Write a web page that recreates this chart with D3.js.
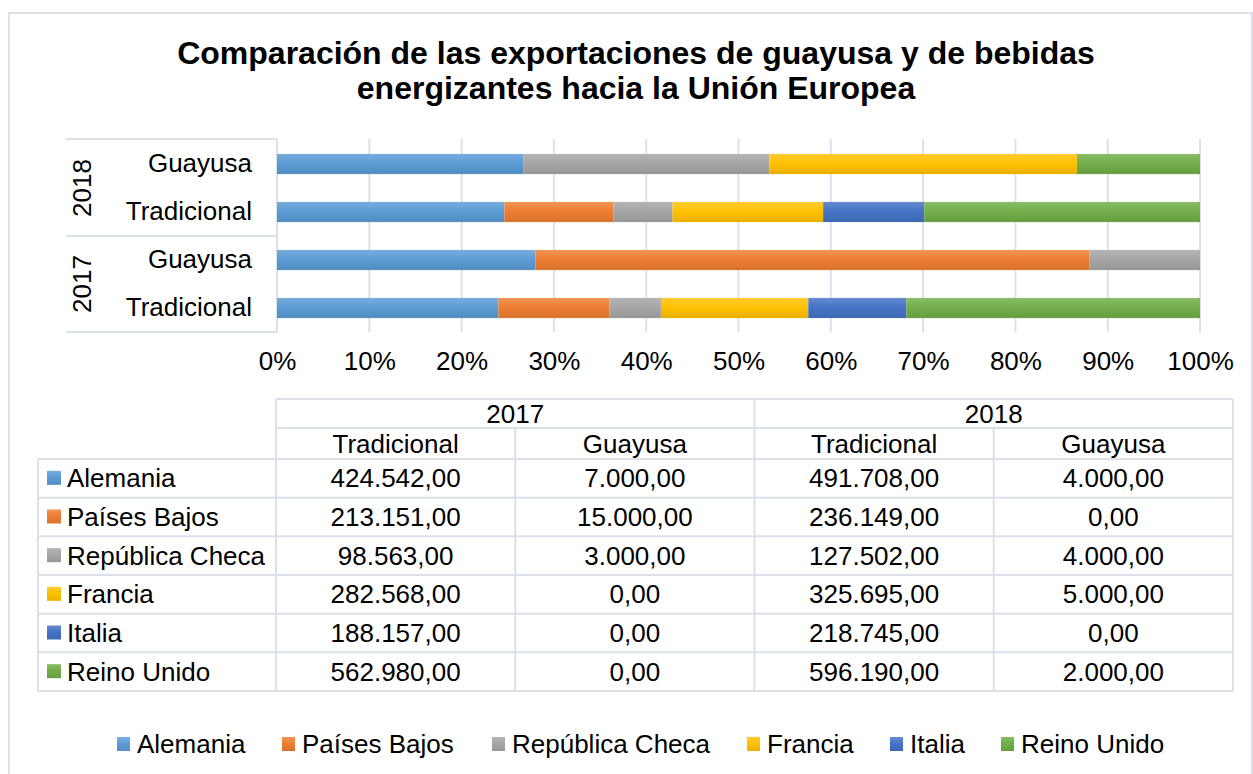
<!DOCTYPE html>
<meta charset="utf-8">
<head>
<script src="https://cdn.jsdelivr.net/npm/d3@7"></script>
<style>
body { margin: 0; background: #fff; }
text { font-family: "Liberation Sans", Arial, sans-serif; fill: #000; }
.title { font-size: 32px; font-weight: bold; }
.lbl { font-size: 26px; }
</style>
</head>
<body>
<script>

// datos
var countries = ["Alemania", "Países Bajos", "República Checa", "Francia", "Italia", "Reino Unido"];
var colors = ["#5b9bd5", "#ed7d31", "#a5a5a5", "#ffc000", "#4472c4", "#70ad47"];
var years = ["2017", "2018"];
var types = ["Tradicional", "Guayusa"];

var trad2017 = [424542, 213151, 98563, 282568, 188157, 562980];
var guay2017 = [7000, 15000, 3000, 0, 0, 0];
var trad2018 = [491708, 236149, 127502, 325695, 218745, 596190];
var guay2018 = [4000, 0, 4000, 5000, 0, 2000];

var xTicks = [0, 0.1, 0.2, 0.3, 0.4, 0.5, 0.6, 0.7, 0.8, 0.9, 1];

var width = 1253, height = 774;
var gridColor = "#dce0e8";

// filas del gráfico (de arriba hacia abajo)
var barRows = [
  {year: "2018", type: "Guayusa", vals: guay2018},
  {year: "2018", type: "Tradicional", vals: trad2018},
  {year: "2017", type: "Guayusa", vals: guay2017},
  {year: "2017", type: "Tradicional", vals: trad2017}
];
// columnas de la tabla
var tableCols = [
  {year: "2017", type: "Tradicional", vals: trad2017},
  {year: "2017", type: "Guayusa", vals: guay2017},
  {year: "2018", type: "Tradicional", vals: trad2018},
  {year: "2018", type: "Guayusa", vals: guay2018}
];

var es = d3.formatLocale({decimal: ",", thousands: ".", grouping: [3], currency: ["", "€"]});
var fmt = es.format(",.2f");

var svg = d3.select("body").append("svg")
    .attr("width", width)
    .attr("height", height);

// degradados tipo Excel
var defs = svg.append("defs");
colors.forEach(function(c, i) {
  var g = defs.append("linearGradient")
      .attr("id", "grad" + i)
      .attr("x1", 0).attr("y1", 0).attr("x2", 0).attr("y2", 1);
  g.append("stop").attr("offset", "0%").attr("stop-color", d3.interpolateRgb(c, "#fff")(0.18));
  g.append("stop").attr("offset", "50%").attr("stop-color", c);
  g.append("stop").attr("offset", "100%").attr("stop-color", d3.color(c).darker(0.25));
});

// borde del área del gráfico
svg.append("rect")
    .attr("x", 9).attr("y", 13)
    .attr("width", 1243).attr("height", 800)
    .attr("fill", "none")
    .attr("stroke", gridColor)
    .attr("stroke-width", 2);

// título
svg.append("text").attr("class", "title")
    .attr("x", 636).attr("y", 64).attr("text-anchor", "middle")
    .text("Comparación de las exportaciones de guayusa y de bebidas");
svg.append("text").attr("class", "title")
    .attr("x", 636).attr("y", 99).attr("text-anchor", "middle")
    .text("energizantes hacia la Unión Europea");

// escalas
var x = d3.scaleLinear().domain([0, 1]).range([277, 1200]);
var y = d3.scaleBand()
    .domain(barRows.map(function(d) { return d.year + " " + d.type; }))
    .range([140, 332])
    .paddingInner(0.58)
    .paddingOuter(0.29);

// líneas de cuadrícula
svg.append("g").selectAll("line")
    .data(xTicks)
  .enter().append("line")
    .attr("x1", function(d) { return x(d); })
    .attr("x2", function(d) { return x(d); })
    .attr("y1", 139).attr("y2", 332)
    .attr("stroke", gridColor)
    .attr("stroke-width", 2);

// caja del eje de categorías
[139, 236, 332].forEach(function(yy) {
  svg.append("line")
      .attr("x1", 66).attr("x2", 277)
      .attr("y1", yy).attr("y2", yy)
      .attr("stroke", gridColor).attr("stroke-width", 2);
});

// barras apiladas 100%
var stackInput = barRows.map(function(r) {
  var o = {key: r.year + " " + r.type};
  countries.forEach(function(c, i) { o[c] = r.vals[i]; });
  return o;
});
var series = d3.stack().keys(countries).offset(d3.stackOffsetExpand)(stackInput);

svg.append("g").selectAll("g")
    .data(series)
  .enter().append("g")
    .attr("fill", function(d, i) { return "url(#grad" + i + ")"; })
  .selectAll("rect")
    .data(function(d) { return d; })
  .enter().append("rect")
    .attr("x", function(d) { return x(d[0]); })
    .attr("width", function(d) { return x(d[1]) - x(d[0]); })
    .attr("y", function(d) { return y(d.data.key); })
    .attr("height", y.bandwidth());

// eje x
var xAxis = svg.append("g")
    .attr("transform", "translate(0,352)")
    .call(d3.axisBottom(x).tickValues(xTicks).tickFormat(d3.format(".0%")).tickSize(0).tickPadding(0));
xAxis.select(".domain").remove();
xAxis.selectAll("text").attr("class", "lbl").attr("fill", "#000");

// eje y (tipo)
var yAxis = svg.append("g")
    .attr("transform", "translate(277,0)")
    .call(d3.axisLeft(y).tickFormat(function(d) { return d.split(" ")[1]; }).tickSize(0).tickPadding(25));
yAxis.select(".domain").remove();
yAxis.selectAll("text").attr("class", "lbl").attr("fill", "#000");

// etiquetas de año
years.forEach(function(yr) {
  var ks = barRows.filter(function(r) { return r.year === yr; }).map(function(r) { return r.year + " " + r.type; });
  var cy = (y(ks[0]) + y(ks[ks.length - 1]) + y.bandwidth()) / 2;
  svg.append("text").attr("class", "lbl")
      .attr("text-anchor", "middle")
      .attr("dominant-baseline", "central")
      .attr("transform", "translate(82," + cy + ") rotate(-90)")
      .text(yr);
});

// tabla de datos
var tx = d3.scaleBand().domain(d3.range(tableCols.length)).range([276, 1233]);
var ty = d3.scaleBand().domain(countries).range([459, 691]);
var tbl = svg.append("g").attr("stroke", gridColor).attr("stroke-width", 2);

// líneas horizontales
tbl.append("line").attr("x1", 276).attr("x2", 1233).attr("y1", 399).attr("y2", 399);
tbl.append("line").attr("x1", 276).attr("x2", 1233).attr("y1", 428).attr("y2", 428);
countries.concat(["end"]).forEach(function(c, i) {
  var yy = i < countries.length ? ty(c) : 691;
  tbl.append("line").attr("x1", 38).attr("x2", 1233).attr("y1", yy).attr("y2", yy);
});
// líneas verticales
tbl.append("line").attr("x1", 38).attr("x2", 38).attr("y1", 459).attr("y2", 691);
tbl.append("line").attr("x1", 276).attr("x2", 276).attr("y1", 399).attr("y2", 691);
tbl.append("line").attr("x1", 1233).attr("x2", 1233).attr("y1", 399).attr("y2", 691);
tableCols.forEach(function(c, i) {
  if (i === 0) return;
  var top = (i % 2 === 0) ? 399 : 428;
  tbl.append("line").attr("x1", tx(i)).attr("x2", tx(i)).attr("y1", top).attr("y2", 691);
});

// encabezados
years.forEach(function(yr, j) {
  svg.append("text").attr("class", "lbl")
      .attr("x", tx(j * 2) + tx.bandwidth()).attr("y", 413.5)
      .attr("text-anchor", "middle").attr("dominant-baseline", "central")
      .text(yr);
});
tableCols.forEach(function(c, i) {
  svg.append("text").attr("class", "lbl")
      .attr("x", tx(i) + tx.bandwidth() / 2).attr("y", 443.5)
      .attr("text-anchor", "middle").attr("dominant-baseline", "central")
      .text(c.type);
});

// filas
countries.forEach(function(c, r) {
  var cy = ty(c) + ty.bandwidth() / 2;
  svg.append("rect")
      .attr("x", 47).attr("y", cy - 7.5)
      .attr("width", 14).attr("height", 14)
      .attr("fill", "url(#grad" + r + ")");
  svg.append("text").attr("class", "lbl")
      .attr("x", 67).attr("y", cy)
      .attr("dominant-baseline", "central")
      .text(c);
  tableCols.forEach(function(col, i) {
    svg.append("text").attr("class", "lbl")
        .attr("x", tx(i) + tx.bandwidth() / 2).attr("y", cy)
        .attr("text-anchor", "middle").attr("dominant-baseline", "central")
        .text(fmt(col.vals[r]));
  });
});

// leyenda
var legX = [117, 282, 492, 747, 890, 1001];
countries.forEach(function(c, i) {
  svg.append("rect")
      .attr("x", legX[i]).attr("y", 737)
      .attr("width", 13).attr("height", 14)
      .attr("fill", "url(#grad" + i + ")");
  svg.append("text").attr("class", "lbl")
      .attr("x", legX[i] + 20).attr("y", 744)
      .attr("dominant-baseline", "central")
      .text(c);
});

</script>
</body>
